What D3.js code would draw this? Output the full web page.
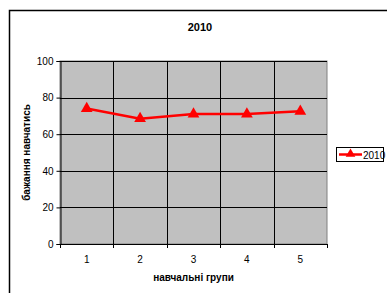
<!DOCTYPE html>
<html><head><meta charset="utf-8">
<script src="https://cdn.jsdelivr.net/npm/d3@7"></script>
<style>body{margin:0;background:#fff;}svg{display:block;font-family:"Liberation Sans",Arial,sans-serif;}</style>
</head><body>
<script>
const categories = ["1","2","3","4","5"];
const values2010 = [74, 68.5, 71, 71, 72.5];
const yTicks = [0,20,40,60,80,100];
const seriesName = "2010";
const title = "2010";
const xTitle = "навчальні групи";
const yTitle = "бажання навчатись";

const W=387,H=293;
const svg=d3.select("body").append("svg").attr("width",W).attr("height",H);
svg.append("rect").attr("x",9.5).attr("y",10.5).attr("width",400).attr("height",300).attr("fill","#fff").attr("stroke","#000").attr("stroke-width",1.5);

const L=60,R=327,T=61,B=244;
const x=d3.scaleBand().domain(categories).range([L,R]);
const y=d3.scaleLinear().domain([0,100]).range([B,T]);

svg.append("rect").attr("x",L).attr("y",T).attr("width",R-L).attr("height",B-T).attr("fill","#c0c0c0").attr("stroke","#808080");

// grid
svg.append("g").selectAll("line").data(yTicks.slice(1)).join("line")
 .attr("x1",L).attr("x2",R).attr("y1",d=>Math.round(y(d))+0.5).attr("y2",d=>Math.round(y(d))+0.5).attr("stroke","#000");
svg.append("g").selectAll("line").data(categories.slice(1)).join("line")
 .attr("x1",d=>Math.round(x(d))+0.5).attr("x2",d=>Math.round(x(d))+0.5).attr("y1",T).attr("y2",B).attr("stroke","#000");

// y axis
const ya=svg.append("g").attr("transform",`translate(${L+0.5},0)`).call(d3.axisLeft(y).tickValues(yTicks).tickSize(4).tickPadding(3));
ya.selectAll("text").attr("font-size",10).attr("fill","#000").attr("font-family","Liberation Sans, Arial");
ya.select(".domain").attr("stroke","#000");
ya.selectAll(".tick line").attr("stroke","#000");

// x axis with ticks between categories
svg.append("line").attr("x1",L).attr("x2",R).attr("y1",B+0.5).attr("y2",B+0.5).attr("stroke","#000");
const bounds=categories.map(c=>x(c)).concat([x(categories[categories.length-1])+x.bandwidth()]);
svg.append("g").selectAll("line").data(bounds).join("line")
 .attr("x1",d=>Math.round(d)+0.5).attr("x2",d=>Math.round(d)+0.5).attr("y1",B).attr("y2",B+4).attr("stroke","#000");
svg.append("g").selectAll("text").data(categories).join("text")
 .attr("x",d=>x(d)+x.bandwidth()/2).attr("y",B+19).attr("text-anchor","middle").attr("font-size",10).text(d=>d);

// line
const line=d3.line().x((d,i)=>x(categories[i])+x.bandwidth()/2).y(d=>y(d));
svg.append("path").datum(values2010).attr("d",line).attr("fill","none").attr("stroke","#ff0000").attr("stroke-width",2.5);
const tri=d3.symbol().type(d3.symbolTriangle).size(60);
svg.append("g").selectAll("path").data(values2010).join("path")
 .attr("transform",(d,i)=>`translate(${x(categories[i])+x.bandwidth()/2},${y(d)})`).attr("d",tri).attr("fill","#ff0000");

// titles
svg.append("text").attr("x",200).attr("y",31).attr("text-anchor","middle").attr("font-size",11).attr("font-weight","bold").text(title);
svg.append("text").attr("x",(L+R)/2).attr("y",281).attr("text-anchor","middle").attr("font-size",10).attr("font-weight","bold").text(xTitle);
svg.append("text").attr("transform",`translate(30,${(T+B)/2}) rotate(-90)`).attr("text-anchor","middle").attr("font-size",10).attr("font-weight","bold").text(yTitle);

// legend
svg.append("rect").attr("x",336.5).attr("y",147.5).attr("width",47).attr("height",14).attr("fill","#fff").attr("stroke","#000");
svg.append("line").attr("x1",339).attr("x2",362).attr("y1",154.5).attr("y2",154.5).attr("stroke","#ff0000").attr("stroke-width",2.5);
svg.append("path").attr("transform","translate(350.5,154)").attr("d",d3.symbol().type(d3.symbolTriangle).size(40)).attr("fill","#ff0000");
svg.append("text").attr("x",363).attr("y",158.5).attr("font-size",10).text(seriesName);
</script>
</body></html>
